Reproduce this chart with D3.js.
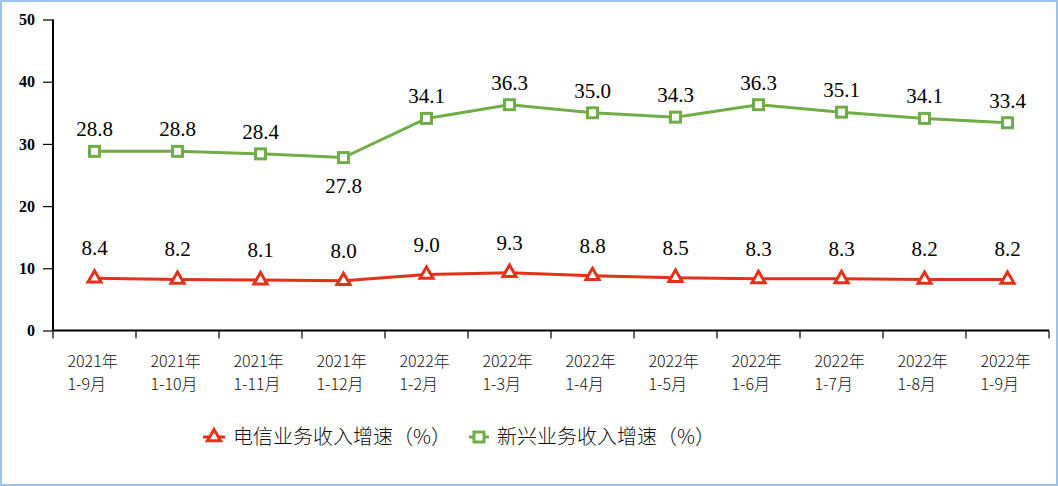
<!DOCTYPE html>
<html><head><meta charset="utf-8">
<script src="https://cdn.jsdelivr.net/npm/d3@7"></script>
<style>
body{margin:0;background:#fff;}
svg{display:block;}
</style></head>
<body>
<svg id="c" width="1058" height="486"></svg>
<script>
const categories = [["2021年","1-9月"],["2021年","1-10月"],["2021年","1-11月"],["2021年","1-12月"],["2022年","1-2月"],["2022年","1-3月"],["2022年","1-4月"],["2022年","1-5月"],["2022年","1-6月"],["2022年","1-7月"],["2022年","1-8月"],["2022年","1-9月"]];
const telecom = [8.4, 8.2, 8.1, 8.0, 9.0, 9.3, 8.8, 8.5, 8.3, 8.3, 8.2, 8.2];
const emerging = [28.8, 28.8, 28.4, 27.8, 34.1, 36.3, 35.0, 34.3, 36.3, 35.1, 34.1, 33.4];
const yTicks = [0, 10, 20, 30, 40, 50];
const seriesNames = ["电信业务收入增速（%）", "新兴业务收入增速（%）"];

const svg = d3.select("#c");
const red = "#E2321A", green = "#70AD47";

svg.append("rect").attr("x",1).attr("y",1).attr("width",1056).attr("height",484)
  .attr("fill","#fff").attr("stroke","#9DC3E6").attr("stroke-width",2);

const pLeft = 53, pRight = 1049, pTop = 19.5, pBottom = 330.5;
const x = d3.scaleBand().domain(d3.range(categories.length)).range([pLeft, pRight]);
const y = d3.scaleLinear().domain([0, 50]).range([pBottom, pTop]);

// y axis
const ya = svg.append("g").attr("transform", `translate(${pLeft},0)`)
  .call(d3.axisLeft(y).tickValues(yTicks).tickSize(10).tickPadding(8));
ya.select(".domain").attr("stroke","#000").attr("stroke-width",2).attr("d", `M0,${pTop}V${pBottom}`);
ya.selectAll(".tick line").attr("stroke","#000").attr("stroke-width",1.2);
ya.selectAll(".tick text").attr("font-family","'Liberation Serif', serif").attr("font-weight","bold")
  .attr("font-size","16px").attr("fill","#000");

// x axis
const xa = svg.append("g").attr("transform", `translate(0,${pBottom})`);
xa.append("line").attr("x1",pLeft).attr("x2",pRight).attr("stroke","#000").attr("stroke-width",2);
const tickPos = d3.range(categories.length+1).map(i => i < categories.length ? x(i) : x(categories.length-1)+x.bandwidth());
xa.selectAll("line.t").data(tickPos).join("line").attr("class","t")
  .attr("x1",d=>d).attr("x2",d=>d).attr("y1",0).attr("y2",8).attr("stroke","#000").attr("stroke-width",1.2);
const cx = i => x(i) + x.bandwidth()/2;
const lab = xa.selectAll("text.xl").data(categories).join("text").attr("class","xl")
  .attr("font-family","'Noto Sans CJK SC', sans-serif").attr("font-size","16px").attr("font-weight","300").attr("fill","#111");
lab.each(function(d,i){
  const t = d3.select(this);
  const lx = cx(i) - 27;
  t.append("tspan").attr("x",lx).attr("y",36).text(d[0]);
  t.append("tspan").attr("x",lx).attr("y",59).text(d[1]);
});

const line = d3.line().x((d,i)=>cx(i)).y(d=>y(d));

svg.append("path").datum(emerging).attr("d", line).attr("fill","none").attr("stroke",green).attr("stroke-width",3);
svg.append("path").datum(telecom).attr("d", line).attr("fill","none").attr("stroke",red).attr("stroke-width",3);

const tri = d3.symbol().type(d3.symbolTriangle).size(75);
function drawSquare(g, px, py){
  g.append("rect").attr("x",px-5).attr("y",py-5).attr("width",10).attr("height",10)
   .attr("fill","#fff").attr("stroke",green).attr("stroke-width",3);
}
function drawTri(g, px, py){
  g.append("path").attr("d",tri()).attr("transform",`translate(${px},${py})`)
   .attr("fill","#fff").attr("stroke",red).attr("stroke-width",3);
}
const mk = svg.append("g");
emerging.forEach((v,i)=>drawSquare(mk, cx(i), y(v)));
telecom.forEach((v,i)=>drawTri(mk, cx(i), y(v)));

const lbl = svg.append("g").attr("font-family","'Liberation Serif', serif").attr("font-size","21px")
  .attr("fill","#000").attr("text-anchor","middle");
emerging.forEach((v,i)=>{
  const below = (i === 3);
  lbl.append("text").attr("x",cx(i)).attr("y", below ? y(v)+35 : y(v)-15).text(v.toFixed(1));
});
telecom.forEach((v,i)=>{
  lbl.append("text").attr("x",cx(i)).attr("y", y(v)-23).text(v.toFixed(1));
});

// legend
const lg = svg.append("g").attr("font-family","'Noto Sans CJK SC', sans-serif").attr("font-size","20px").attr("font-weight","300").attr("fill","#111");
lg.append("line").attr("x1",203).attr("x2",225).attr("y1",437).attr("y2",437).attr("stroke",red).attr("stroke-width",3);
drawTri(lg, 214, 437);
lg.append("text").attr("x",233).attr("y",444).text(seriesNames[0]);
lg.append("line").attr("x1",469).attr("x2",489).attr("y1",437).attr("y2",437).attr("stroke",green).attr("stroke-width",3);
drawSquare(lg, 479, 437);
lg.append("text").attr("x",497).attr("y",444).text(seriesNames[1]);
</script>
</body></html>
